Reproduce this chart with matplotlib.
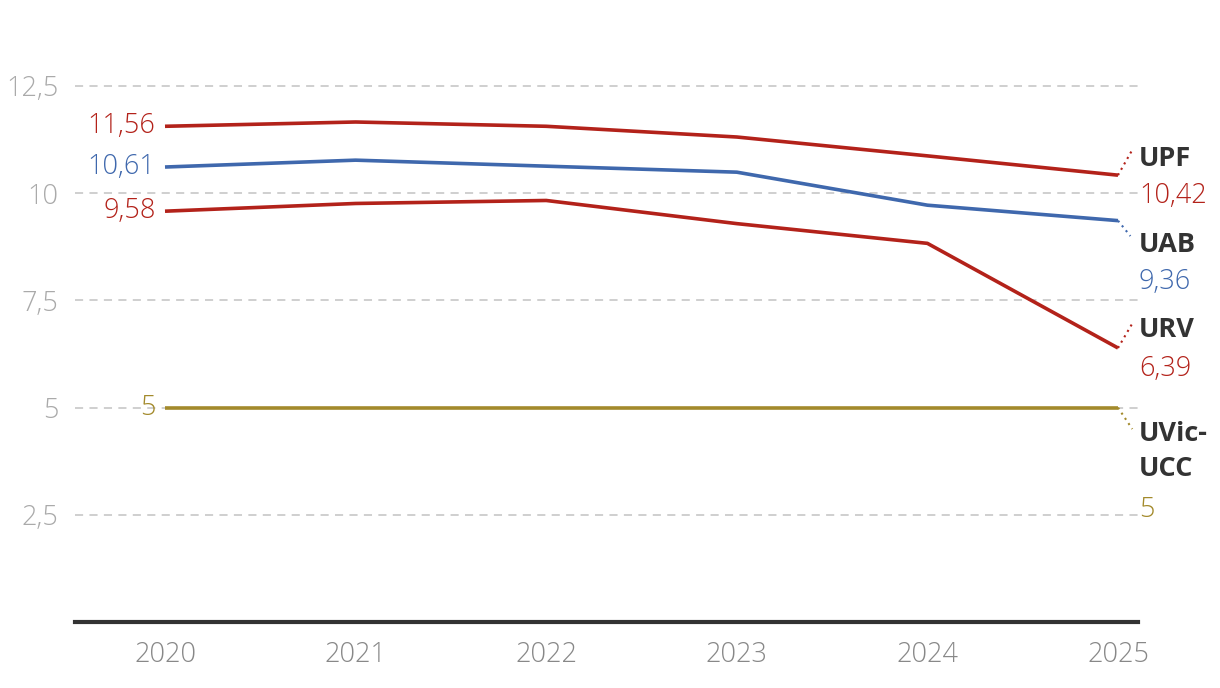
import matplotlib
matplotlib.use("Agg")
import matplotlib.pyplot as plt
from matplotlib import font_manager

years = [2020, 2021, 2022, 2023, 2024, 2025]
upf = [11.56, 11.66, 11.56, 11.31, 10.87, 10.42]
uab = [10.61, 10.77, 10.63, 10.49, 9.72, 9.36]
urv = [9.58, 9.76, 9.83, 9.29, 8.83, 6.39]
uvic = [5, 5, 5, 5, 5, 5]
names = ["UPF", "UAB", "URV", "UVic-\nUCC"]
series = [upf, uab, urv, uvic]
series_colors = ["#b3221a", "#3f68ad", "#b3221a", "#a38a2b"]
yticks = [2.5, 5, 7.5, 10, 12.5]
ytick_labels = ["2,5", "5", "7,5", "10", "12,5"]

def fmt(v):
    s = f"{v:.2f}".rstrip("0").rstrip(".")
    return s.replace(".", ",")

# layout: label name y (data units), value y, connector end
name_y = [10.79, 8.79, 6.81, 3.97]
value_y = [9.93, 7.92, 5.91, 2.62]
conn_end = [(2025.08, 11.05), (2025.065, 9.0), (2025.08, 7.0), (2025.075, 4.5)]

plt.rcParams['font.family'] = ['Open Sans', 'DejaVu Sans']

# find a light, normal-width weight if installed
light_fp = None
for f in font_manager.fontManager.ttflist:
    fn = f.fname.lower()
    if (f.name == 'Open Sans' and isinstance(f.weight, int) and f.weight <= 300
            and f.style == 'normal' and f.stretch == 'normal'
            and 'condensed' not in fn and 'italic' not in fn):
        light_fp = f.fname
        break
def light_props(size):
    if light_fp:
        return font_manager.FontProperties(fname=light_fp, size=size)
    return font_manager.FontProperties(family='Open Sans', weight='normal', size=size)

FS = 19.5
fig = plt.figure(figsize=(12.2, 6.88), dpi=100)
ax = fig.add_axes([75/1220, 66/688, (1138-75)/1220, 622/688])
ax.set_xlim(2020 - 90/190.6, 2025 + 20/190.6)
ax.set_ylim(0, 14.505)

for y in yticks:
    ax.axhline(y, color="#cccccc", lw=1.3, ls=(0, (4.5, 3.5)), zorder=1)

for s, c, nm, ny, vy, ce in zip(series, series_colors, names, name_y, value_y, conn_end):
    ax.plot(years, s, color=c, lw=2.6, zorder=3, solid_capstyle='butt')
    ax.text(2020 - 0.05, s[0], fmt(s[0]), color=c, fontproperties=light_props(FS),
            ha='right', va='center', zorder=4)
    ax.plot([years[-1], ce[0]], [s[-1], ce[1]], color=c, lw=1.5, ls=(0, (1, 2)), zorder=3)
    ax.text(2025.11, ny, nm, color="#333333", fontsize=FS, fontweight='bold',
            ha='left', va='center', linespacing=1.45, clip_on=False)
    ax.text(2025.11, vy, fmt(s[-1]), color=c, fontproperties=light_props(FS),
            ha='left', va='center', clip_on=False)

for sp in ["top", "right", "left"]:
    ax.spines[sp].set_visible(False)
ax.spines["bottom"].set_color("#333333")
ax.spines["bottom"].set_linewidth(3)
ax.set_yticks(yticks)
ax.set_yticklabels(ytick_labels)
ax.set_xticks(years)
ax.set_xticklabels([str(y) for y in years])
ax.tick_params(axis='y', length=0, pad=12, labelcolor="#aaaaaa")
ax.tick_params(axis='x', length=0, pad=14, labelcolor="#888888")
for lab in ax.get_xticklabels() + ax.get_yticklabels():
    lab.set_fontproperties(light_props(FS))

fig.savefig("out.png", dpi=100)
